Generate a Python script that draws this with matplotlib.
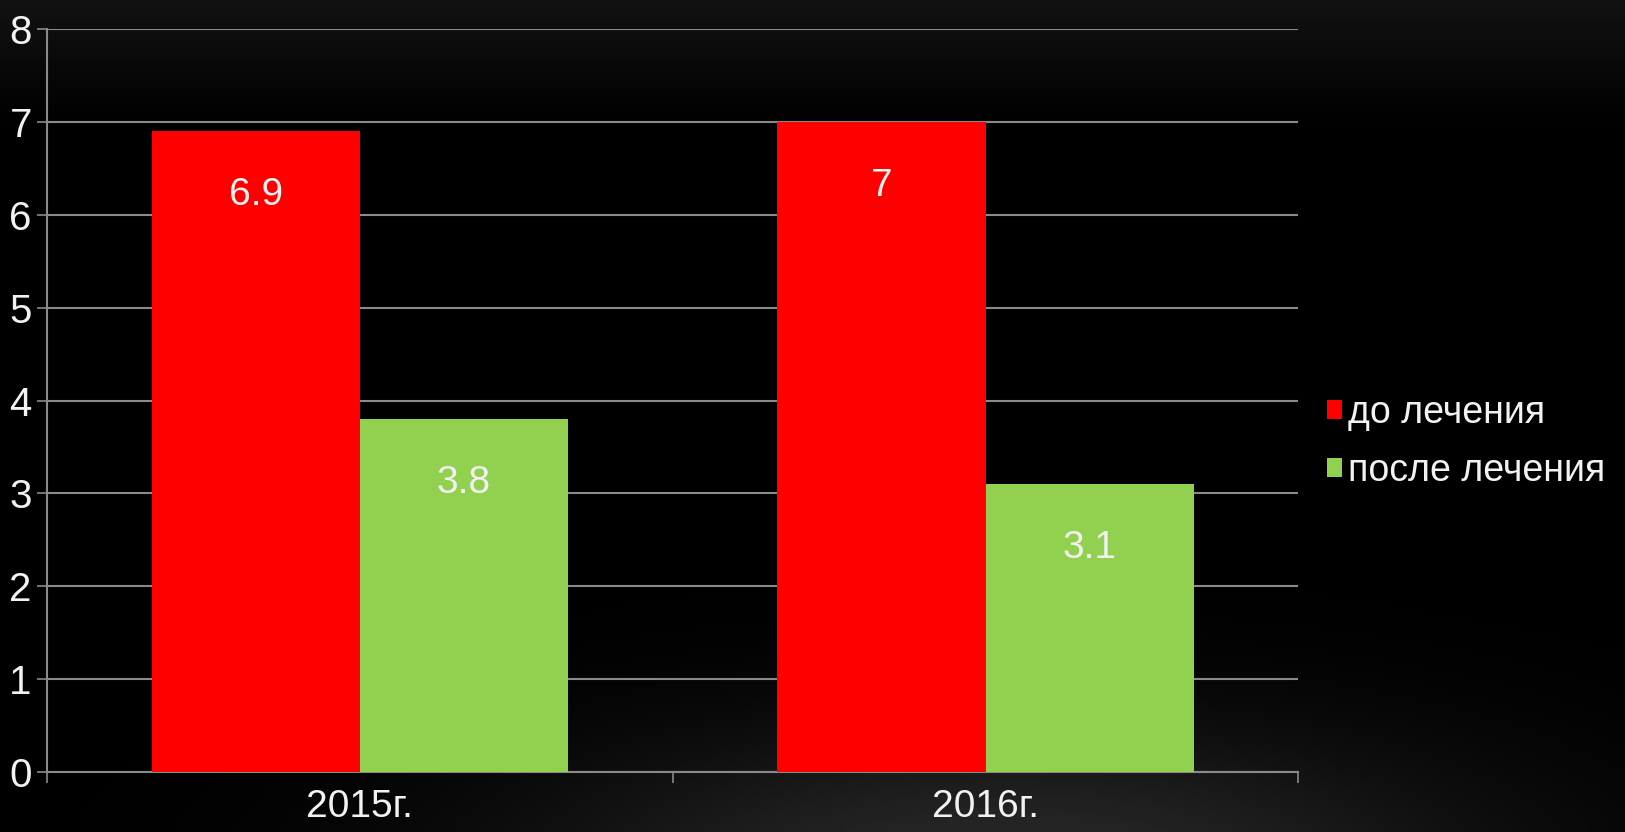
import numpy as np
import matplotlib
matplotlib.use("Agg")
import matplotlib.pyplot as plt

# data
years = ["2015г.", "2016г."]
series_names = ["до лечения", "после лечения"]
before = [6.9, 7.0]
after = [3.8, 3.1]
value_labels_before = ["6.9", "7"]
value_labels_after = ["3.8", "3.1"]
y_ticks = [0, 1, 2, 3, 4, 5, 6, 7, 8]

RED = "#FF0000"
GREEN = "#92D050"
GRID = "#8a8a8a"
TXT = "#f2f2f2"

plt.rcParams["font.family"] = ["Liberation Sans", "DejaVu Sans"]

fig = plt.figure(figsize=(16.25, 8.32), dpi=100, facecolor="black")

# background: black with faint top haze and a soft glow at the bottom
bg = fig.add_axes([0, 0, 1, 1], zorder=-10)
h, w = 200, 400
yy, xx = np.mgrid[0:h, 0:w]
yy = yy / (h - 1)
xx = xx / (w - 1)
top = 0.07 * np.clip(1 - yy / 0.15, 0, 1)
glow = 0.16 * np.exp(-(((xx - 0.62) / 0.30) ** 2 + ((yy - 1.05) / 0.18) ** 2))
img = np.clip(top + glow, 0, 1)
bg.imshow(img, cmap="gray", vmin=0, vmax=1, aspect="auto", extent=[0, 1, 0, 1], origin="upper")
bg.set_axis_off()

ax = fig.add_axes([0.029, 0.072, 0.770, 0.893])
ax.set_facecolor("none")

x = np.arange(len(years))
width = 0.333
b1 = ax.bar(x - width / 2, before, width, color=RED, label=series_names[0], zorder=3)
b2 = ax.bar(x + width / 2, after, width, color=GREEN, label=series_names[1], zorder=3)

for rects, labels in ((b1, value_labels_before), (b2, value_labels_after)):
    for r, lab in zip(rects, labels):
        ax.annotate(lab, (r.get_x() + r.get_width() / 2, r.get_height()),
                    xytext=(0, -46), textcoords="offset points",
                    ha="center", va="center", fontsize=28, color=TXT, zorder=4)

ax.set_ylim(0, 8)
ax.set_xlim(-0.5, 1.5)
ax.set_yticks(y_ticks)
ax.yaxis.grid(True, color=GRID, linewidth=1.5, zorder=1)
ax.set_axisbelow(True)

ax.set_xticks(x)
ax.set_xticklabels(years)
ax.set_xticks([-0.5, 0.5, 1.5], minor=True)
ax.tick_params(axis="x", which="major", length=0, pad=12, labelsize=28, colors=TXT)
ax.tick_params(axis="x", which="minor", length=8, width=1.2, color=GRID)
ax.tick_params(axis="y", length=7, width=1.2, color=GRID, labelsize=29,
               labelcolor=TXT, pad=4)

for side in ("top", "right"):
    ax.spines[side].set_visible(False)
for side in ("left", "bottom"):
    ax.spines[side].set_color(GRID)
    ax.spines[side].set_linewidth(1.5)

leg = ax.legend(loc="center left", bbox_to_anchor=(0.805, 0.469),
                bbox_transform=fig.transFigure, frameon=False,
                fontsize=27, handlelength=0.4, handleheight=0.4,
                handletextpad=0.15, labelspacing=0.6, borderpad=0)
for t in leg.get_texts():
    t.set_color(TXT)

fig.savefig("out.png", dpi=100, facecolor="black")
